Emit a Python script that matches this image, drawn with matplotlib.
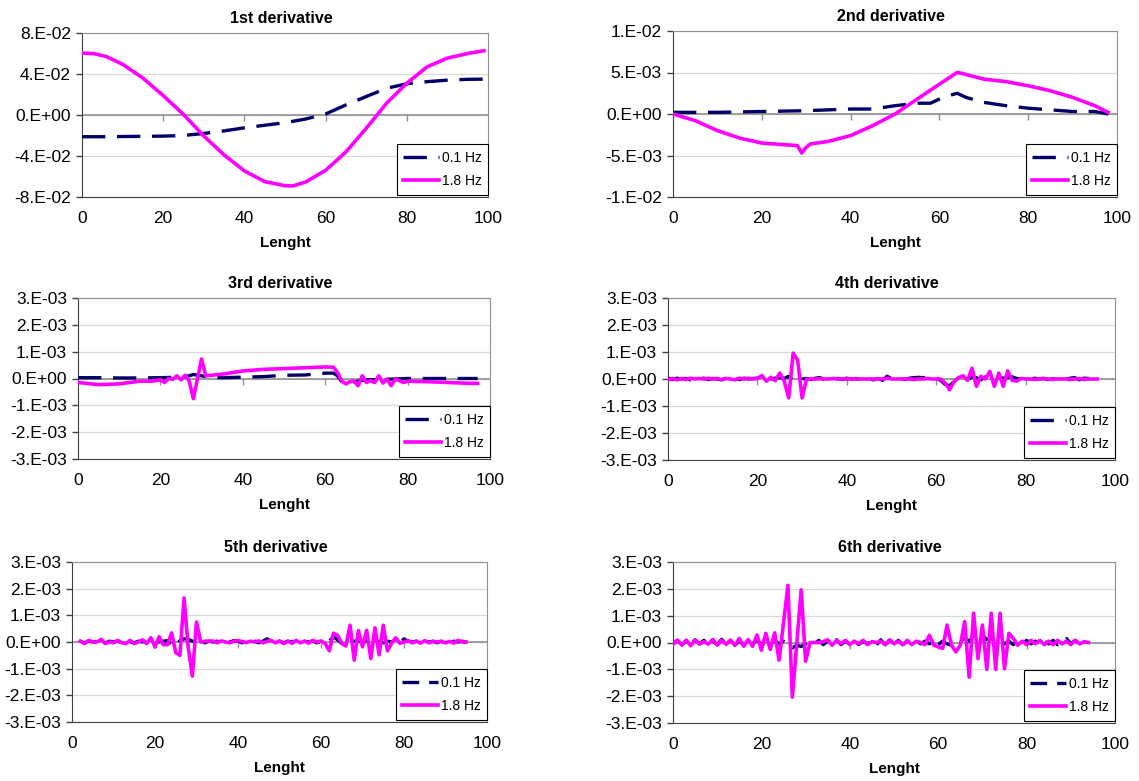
import matplotlib
matplotlib.use("Agg")
import matplotlib.pyplot as plt
import numpy as np

plt.rcParams["font.family"] = ["Liberation Sans", "DejaVu Sans"]

NAVY = "#000066"
MAGENTA = "#ff00ff"
FIG_W, FIG_H = 1139, 781

SERIES_LABELS = ["0.1 Hz", "1.8 Hz"]
LENGTH_TICKS = [0, 20, 40, 60, 80, 100]
TITLES = ["1st derivative", "2nd derivative", "3rd derivative",
          "4th derivative", "5th derivative", "6th derivative"]

# y ticks per panel
TICKS_1 = [0.08, 0.04, 0.0, -0.04, -0.08]
TICKLABELS_1 = ["8.E-02", "4.E-02", "0.E+00", "-4.E-02", "-8.E-02"]
TICKS_2 = [0.01, 0.005, 0.0, -0.005, -0.01]
TICKLABELS_2 = ["1.E-02", "5.E-03", "0.E+00", "-5.E-03", "-1.E-02"]
TICKS_3 = [0.003, 0.002, 0.001, 0.0, -0.001, -0.002, -0.003]
TICKLABELS_3 = ["3.E-03", "2.E-03", "1.E-03", "0.E+00", "-1.E-03", "-2.E-03", "-3.E-03"]

# 1st derivative
X1_LOW = [0, 5, 10, 15, 20, 25, 30, 35, 40, 45, 50, 55, 60, 65, 70, 75, 80, 85, 90, 95, 100]
Y1_LOW = [-0.0212, -0.0212, -0.0210, -0.0208, -0.0206, -0.0200, -0.0180, -0.0155, -0.0125,
          -0.0100, -0.0075, -0.0040, 0.0010, 0.0098, 0.0180, 0.0260, 0.0305, 0.0325,
          0.0340, 0.0348, 0.0350]
X1_HIGH = [0, 3, 6, 10, 15, 20, 25, 30, 35, 40, 45, 50, 52, 55, 60, 65, 70, 75, 80, 85, 90, 95, 99]
Y1_HIGH = [0.0604, 0.0598, 0.0570, 0.0495, 0.0360, 0.0190, 0.0005, -0.0205, -0.0390, -0.0545,
           -0.0650, -0.0690, -0.0692, -0.0655, -0.0540, -0.0360, -0.0130, 0.0114, 0.0310,
           0.0470, 0.0555, 0.0600, 0.0627]

# 2nd derivative
X2_LOW = [0, 10, 20, 30, 40, 45, 50, 55, 58, 60, 62, 64, 66, 70, 75, 80, 85, 90, 95, 98]
Y2_LOW = [0.0002, 0.0002, 0.0003, 0.0004, 0.0006, 0.0006, 0.0010, 0.0013, 0.0013, 0.0018,
          0.0022, 0.0025, 0.0020, 0.0014, 0.0010, 0.0007, 0.0005, 0.0003, 0.0003, 0.0]
X2_HIGH = [0, 5, 10, 15, 20, 25, 28, 29, 30, 31, 35, 40, 45, 50, 55, 60, 64, 65, 70, 75,
           80, 85, 90, 95, 98]
Y2_HIGH = [0.0, -0.0008, -0.0020, -0.0029, -0.0035, -0.0037, -0.0038, -0.0047, -0.0040,
           -0.0036, -0.0033, -0.0026, -0.0014, 0.0, 0.0018, 0.0036, 0.0050, 0.0049, 0.0042,
           0.0039, 0.0034, 0.0028, 0.0020, 0.0010, 0.0002]

# 3rd derivative (values in units of 1e-4)
X3_LOW = [0, 5, 10, 15, 20, 25, 27, 28, 29, 30, 32, 35, 40, 45, 50, 55, 60, 62, 63, 64, 65,
          67, 70, 75, 80, 85, 90, 97]
Y3_LOW_E4 = [0.3, 0.3, 0.2, 0.2, 0.3, 0.5, 1.0, 1.5, 1.2, 1.0, 0.4, 0.3, 0.5, 0.7, 1.2, 1.3,
             2.0, 2.0, 1.0, -1.3, -1.8, -1.2, -0.5, -0.3, 0.0, 0.0, 0.0, 0.0]
X3_HIGH = [0, 2, 5, 10, 15, 18, 20, 21, 22, 23, 24, 25, 26, 27, 28, 29, 30, 31, 35, 40, 45,
           50, 55, 60, 62, 63, 64, 65, 66, 67, 68, 69, 70, 71, 72, 73, 74, 75, 76, 77, 78,
           79, 80, 85, 90, 95, 97]
Y3_HIGH_E4 = [-1.5, -1.8, -2.3, -2.0, -1.0, -1.0, -0.5, -1.5, 0.0, -0.3, 1.0, -0.5, 1.2,
              -1.0, -7.5, 0.0, 7.3, 1.0, 1.6, 2.8, 3.4, 3.7, 4.0, 4.3, 4.2, 2.2, -1.0, -2.0,
              -1.2, -1.0, -2.7, 1.0, -1.5, -0.8, -1.5, 1.0, -1.7, -0.2, -2.7, -0.2, -0.8,
              -1.5, -1.0, -1.2, -1.5, -1.8, -1.8]

# 4th derivative (1e-4), sampled every unit from 0 to 96
X4 = list(range(0, 97))
Y4_LOW_E4 = [0.3, -0.2, 0.3, 0.0, 0.2, -0.3, 0.2, 0.0, 0.3, -0.2, 0.2, 0.0, -0.3, 0.2, 0.0,
             0.2, -0.2, 0.3, 0.0, 0.2, 0.3, -0.2, 0.2, 0.0, 0.3, 0.5, 0.2, 1.0, -0.5, -1.2,
             0.0, 0.2, -0.2, 0.3, 0.5, -0.2, 0.3, 0.0, 0.2, -0.2, 0.3, 0.0, 0.2, -0.2, 0.2,
             0.0, -0.3, 0.2, -0.5, 1.0, 0.2, 0.0, 0.2, -0.2, 0.3, 0.5, 0.6, 0.5, 0.6, 0.5,
             0.2, -0.5, -2.0, -2.5, -1.0, 0.2, 0.5, -0.3, 0.8, 0.5, -0.3, 0.8, 0.5, -0.2, 0.6,
             0.3, 0.5, 0.8, 0.2, 0.0, 0.2, -0.2, 0.3, 0.0, 0.2, -0.2, 0.0, 0.2, -0.2, 0.0,
             0.3, 0.5, -0.3, 0.3, 0.2, 0.0, 0.2]
Y4_HIGH_E4 = [-0.3, 0.2, -0.3, 0.2, -0.2, 0.3, 0.0, 0.2, 0.0, 0.3, 0.0, 0.2, -0.2, 0.2, 0.0,
              -0.3, 0.3, 0.0, 0.3, 0.0, 0.2, 1.3, -0.8, 0.6, -0.6, 2.2, -0.8, -7.0, 9.6, 7.0,
              -7.0, 0.0, 0.0, 0.0, 0.1, 0.0, 0.0, 0.2, 0.0, 0.0, 0.0, 0.1, 0.0, 0.0, 0.0,
              0.0, 0.0, 0.0, 0.0, 0.3, 0.0, 0.0, 0.0, 0.0, 0.0, -0.2, 0.0, 0.0, 0.2, 0.0,
              0.0, 0.0, -1.5, -4.0, -1.0, 0.5, 1.2, -0.5, 4.0, -2.7, 1.0, 0.0, 2.8, -2.7,
              2.2, -2.7, 3.0, -0.5, -0.8, 0.2, 0.0, 0.0, -0.2, 0.0, 0.2, 0.0, -0.2, 0.0,
              0.0, 0.0, -0.2, 0.0, 0.2, -0.2, 0.0, 0.0, 0.0]

# 5th derivative (1e-4), sampled every unit from 2 to 95
X5 = list(range(2, 96))
Y5_LOW_E4 = [0.3, -0.3, 0.3, 0.0, 0.3, 1.0, -0.3, 0.3, 0.0, 0.3, -0.3, 0.3, 0.0, -0.3,
             0.3, 0.0, 0.3, -0.3, 0.3, 0.0, 0.3, 0.5, -1.0, -1.5, 0.5, 1.2, 1.0, 0.3, 0.0,
             0.3, -0.3, 0.3, 0.0, 0.3, -0.3, 0.3, 0.0, 0.5, 0.3, -0.3, 0.3, 0.0, 0.3, -0.3,
             0.3, 1.2, 0.3, 0.0, 0.3, -0.3, 0.3, 0.0, 0.3, -0.3, 0.3, 0.0, 0.3, -0.3, 0.3,
             0.0, 0.3, 2.0, 0.8, -0.5, 0.3, 0.0, 0.3, 0.5, -0.3, 0.3, 0.3, 0.0, 0.3, -0.3,
             0.3, 0.0, 0.3, -0.3, 1.2, 0.3, 0.0, 0.3, -0.3, 0.3, 0.0, 0.3, -0.3, 0.3, 0.0,
             -0.3, 0.3, 0.0, 0.3, 0.0]
Y5_HIGH_E4 = [0.3, -0.6, 0.6, 0.0, 0.0, 1.0, -0.6, 0.0, -0.3, 0.6, -0.3, -0.6, 0.6, -0.6,
              0.0, 0.8, -0.6, 1.6, -1.9, 2.0, -1.0, -1.0, 3.4, -4.0, -5.0, 16.5, -2.0,
              -12.8, 7.5, 0.0, 0.3, 0.3, 0.4, -0.3, 0.4, 0.0, -0.3, 0.3, 0.5, 0.2, -0.2,
              0.3, 0.0, 0.4, -0.3, 0.3, 0.6, -0.3, 0.4, -0.6, 0.3, -0.5, 0.6, -0.3, 0.3,
              -0.4, 0.6, 0.0, 0.4, -0.6, -3.3, 3.3, 2.5, -0.6, -1.5, 6.3, -6.8, 4.3, -1.8,
              4.4, -6.2, 5.3, -4.8, 6.3, -3.3, -0.5, 1.6, -0.5, 0.0, 0.5, -0.3, 0.3, -0.4,
              0.5, -0.3, 0.2, 0.0, 0.2, -0.3, 0.2, -0.4, 0.6, 0.0, 0.0]

# 6th derivative (1e-4)
X6_LOW = list(range(0, 94))
Y6_LOW_E4 = [-0.5, 0.8, -0.8, 0.5, -0.8, 1.0, -0.5, 0.8, -1.0, 0.5, -0.8, 1.2, -0.5, 0.8,
             -1.0, 0.5, -0.8, 0.8, -0.5, 1.0, -0.8, 0.5, -0.8, 0.8, -0.5, 0.5, -1.0, -2.0,
             -1.0, -1.5, -0.5, 0.5, -0.5, 0.8, -0.8, 0.5, -0.5, 1.0, -0.8, 0.5, -0.5, 0.8,
             -0.8, 0.5, -0.5, 0.8, -1.0, 1.0, -0.8, 0.5, -0.5, 0.8, -0.8, 0.5, -0.5, 0.8,
             -0.5, 0.5, -0.5, 0.8, -0.8, 0.5, -0.5, -1.0, 0.5, 0.8, 1.5, 0.5, 2.5, 1.0, 2.8,
             1.0, 1.5, 0.5, 0.8, -0.5, 0.5, -0.8, 0.5, -0.8, 0.8, -0.5, 0.5, -1.0, 0.5,
             -0.5, 0.8, -0.8, 0.5, 1.5, -0.5, 0.8, -0.5, 0.5]
X6_HIGH = [0, 1, 2, 3, 4, 5, 6, 7, 8, 9, 10, 11, 12, 13, 14, 15, 16, 17, 18, 19, 20, 21, 22,
           23, 24, 26, 27, 29, 30, 31, 32, 33, 34, 35, 36, 37, 38, 39, 40, 41, 42, 43, 44,
           45, 46, 47, 48, 49, 50, 51, 52, 53, 54, 55, 56, 57, 58, 59, 61, 62, 63, 64, 65,
           66, 67, 68, 69, 70, 71, 72, 73, 74, 75, 76, 77, 78, 79, 80, 81, 82, 83, 84, 85,
           86, 87, 88, 89, 90, 91, 92, 93, 94]
Y6_HIGH_E4 = [-0.7, 0.9, -1.0, 0.9, -1.2, 0.9, -0.6, 0.3, -0.6, 1.1, -1.0, 0.9, -0.7, 0.9,
              -1.0, 1.5, -1.4, 1.1, -1.4, 2.8, -2.9, 3.4, -2.6, 3.6, -6.6, 21.3, -20.4,
              19.6, -7.0, 0.0, 0.0, 0.0, 0.3, 1.0, -1.0, 0.8, -0.5, 0.8, -0.8, 0.5, -0.5,
              0.8, -0.8, 0.3, 0.0, 0.5, -0.8, 1.0, -0.5, 0.5, -0.8, 0.8, -0.8, 0.5, 0.0,
              -0.8, 2.7, -1.0, -2.2, 6.5, -1.0, -3.5, -1.0, 7.8, -12.9, 10.9, -6.0, 6.5,
              -10.0, 10.9, -10.0, 10.9, -9.8, 3.4, 1.5, -1.0, 0.5, -0.8, 0.8, -0.5, 0.8,
              -0.8, 0.5, -0.8, 0.8, -0.5, 0.5, -0.8, 0.8, -0.5, 0.3, 0.0]

# axes boxes in pixels: left, top, right, bottom
BOXES = [(82, 33, 488, 197), (673, 31, 1117, 197),
         (78, 298, 490, 459), (668, 298, 1115, 460),
         (72, 562, 487, 722), (673, 562, 1115, 723)]


def draw_panel(fig, box, title, x_low, y_low, x_high, y_high, ticks, ticklabels, dashes):
    left, top, right, bottom = box
    ax = fig.add_axes([left / FIG_W, 1 - bottom / FIG_H,
                       (right - left) / FIG_W, (bottom - top) / FIG_H])
    ax.plot(x_low, y_low, color=NAVY, lw=2.4, linestyle=(0, dashes),
            label=SERIES_LABELS[0], zorder=3)
    ax.plot(x_high, y_high, color=MAGENTA, lw=2.6, label=SERIES_LABELS[1], zorder=4)

    ax.set_xlim(0, 100)
    ax.set_ylim(ticks[-1], ticks[0])
    ax.set_xticks(LENGTH_TICKS)
    ax.set_yticks(ticks)
    ax.set_yticklabels(ticklabels)
    ax.yaxis.grid(True, color="#d9d9d9", lw=0.9)
    ax.set_axisbelow(True)
    ax.tick_params(axis="x", length=0, pad=10, labelsize=12.5)
    ax.tick_params(axis="y", length=4, width=1, color="#404040", pad=4, labelsize=12.5)
    for side in ("left", "bottom"):
        ax.spines[side].set_color("#404040")
    for side in ("top", "right"):
        ax.spines[side].set_color("#909090")

    # the category axis crosses at zero, with its tick marks hanging below it
    ax.axhline(0, color="#909090", lw=1.2, zorder=1)
    ax.plot(LENGTH_TICKS[1:-1], [0] * (len(LENGTH_TICKS) - 2), linestyle="none",
            marker=3, markersize=4, markeredgewidth=1, color="#909090", zorder=1)

    ax.set_title(title, fontsize=11.5, fontweight="bold", pad=7, x=0.49)
    ax.set_xlabel("Lenght", fontsize=11, fontweight="bold", labelpad=7)

    leg = ax.legend(loc="lower right", bbox_to_anchor=(1.0, 0.015), borderaxespad=0,
                    fontsize=10, handlelength=2.6, handletextpad=0.2, labelspacing=0.7,
                    borderpad=0.45, fancybox=False, framealpha=1)
    leg.get_frame().set_edgecolor("#000000")
    leg.get_frame().set_linewidth(0.8)
    return ax


fig = plt.figure(figsize=(FIG_W / 100, FIG_H / 100), dpi=100)
fig.patch.set_facecolor("white")

e4 = 1e-4
panels = [
    (X1_LOW, Y1_LOW, X1_HIGH, Y1_HIGH, TICKS_1, TICKLABELS_1, (7, 3.5)),
    (X2_LOW, Y2_LOW, X2_HIGH, Y2_HIGH, TICKS_2, TICKLABELS_2, (7, 3.5)),
    (X3_LOW, np.array(Y3_LOW_E4) * e4, X3_HIGH, np.array(Y3_HIGH_E4) * e4,
     TICKS_3, TICKLABELS_3, (7, 3.5)),
    (X4, np.array(Y4_LOW_E4) * e4, X4, np.array(Y4_HIGH_E4) * e4,
     TICKS_3, TICKLABELS_3, (7, 3.5)),
    (X5, np.array(Y5_LOW_E4) * e4, X5, np.array(Y5_HIGH_E4) * e4,
     TICKS_3, TICKLABELS_3, (5, 3)),
    (X6_LOW, np.array(Y6_LOW_E4) * e4, X6_HIGH, np.array(Y6_HIGH_E4) * e4,
     TICKS_3, TICKLABELS_3, (5, 3)),
]

for box, title, (xl, yl, xh, yh, ticks, labels, dashes) in zip(BOXES, TITLES, panels):
    draw_panel(fig, box, title, xl, yl, xh, yh, ticks, labels, dashes)

fig.savefig("out.png", dpi=100, facecolor="white")
